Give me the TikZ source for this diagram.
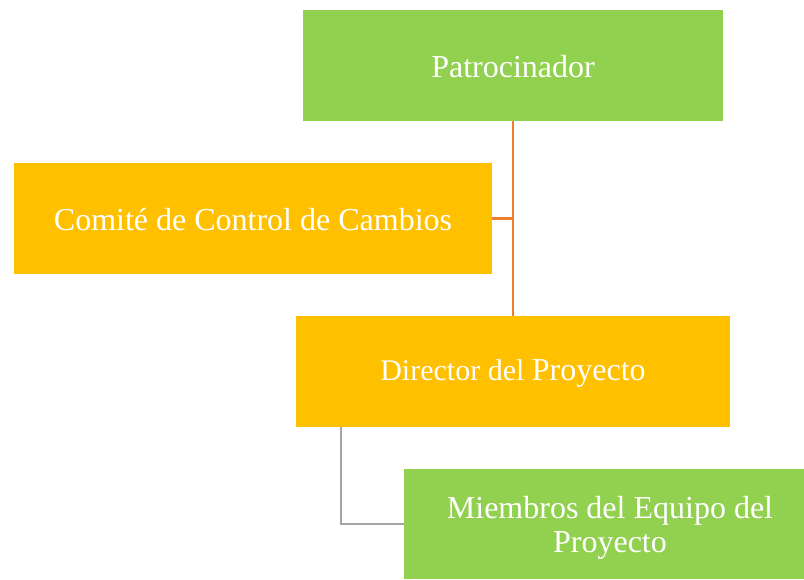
\documentclass[tikz,border=0pt]{standalone}
\usepackage{fontspec}
\setmainfont{Liberation Serif}
\definecolor{boxgreen}{HTML}{92D050}
\definecolor{boxorange}{HTML}{FFC000}
\definecolor{lineorange}{HTML}{ED7D31}
\definecolor{linegray}{HTML}{A5A5A5}
\begin{document}
\begin{tikzpicture}[x=0.75pt,y=-0.75pt,
  box/.style={draw=none,inner sep=0pt,outer sep=0pt,text=white,font=\fontsize{24}{25.5}\selectfont,align=center},
  orgline/.style={line width=2.2pt}]
\useasboundingbox (0,0) rectangle (804,579);
% boxes
\fill[boxgreen] (303,10) rectangle (723,121);
\node[box] (pat) at (513,67) {Patrocinador};
\fill[boxorange] (14,163) rectangle (492,274);
\node[box] (com) at (253,219.5) {Comité de Control de Cambios};
\fill[boxorange] (296,316) rectangle (730,427);
\node[box] (dir) at (513,373.5) {{\fontsize{22.5}{24}\selectfont Director del }Proyecto};
\fill[boxgreen] (404,469) rectangle (804,579);
\node[box] (mie) at (610,528) {Miembros del Equipo del\\Proyecto};
% connectors
\coordinate (patb) at (513,121);
\coordinate (dirt) at (513,316);
\coordinate (comr) at (492,218.5);
\coordinate (junc) at (513,218.5);
\coordinate (dirb) at (341,427);
\coordinate (miel) at (404,524);
\draw[lineorange,orgline] (patb) -- (dirt);
\draw[lineorange,orgline] (comr) -- (junc);
\draw[linegray,orgline] (dirb) |- (miel);
\end{tikzpicture}
\end{document}
